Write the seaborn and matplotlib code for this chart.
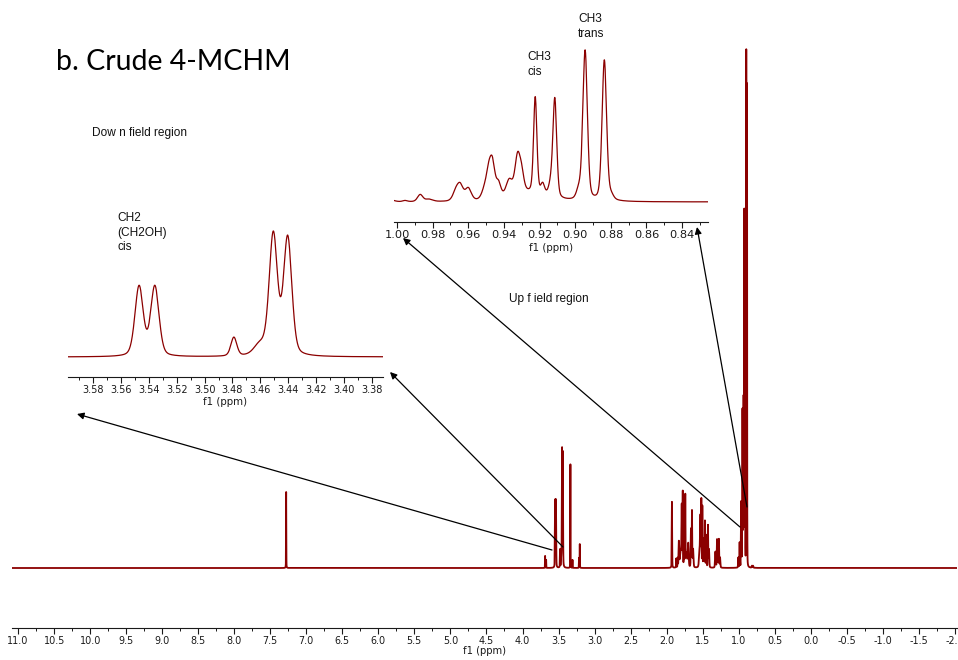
import numpy as np
import pandas as pd
import matplotlib
matplotlib.use("Agg")
import matplotlib.pyplot as plt
from matplotlib.ticker import MultipleLocator, FuncFormatter
import seaborn as sns

# ---------------- data ----------------
# Peaks: position (ppm), intensity (main-plot units), full width at half max (ppm)
methyl_ppm = [0.9955, 0.9870, 0.9820, 0.9670, 0.9645, 0.9600, 0.9505, 0.9485, 0.9465,
              0.9430, 0.9370, 0.9323, 0.9300, 0.9280, 0.9224, 0.9182, 0.9136, 0.9114,
              0.8980, 0.8944, 0.8836, 0.8797]
methyl_int = [4, 24, 8, 30, 50, 42, 40, 60, 120,
              45, 50, 125, 55, 30, 328, 35, 40, 333,
              30, 512, 480, 14]
methyl_fwhm = [0.003, 0.0035, 0.005, 0.004, 0.004, 0.004, 0.004, 0.003, 0.0035,
               0.003, 0.004, 0.0035, 0.003, 0.025, 0.0022, 0.0025, 0.003, 0.0025,
               0.003, 0.003, 0.003, 0.003]

ch2_ppm = [3.5470, 3.5357, 3.4790, 3.4603, 3.4507, 3.4404]
ch2_int = [67, 67, 18, 10, 116, 113]
ch2_fwhm = [0.007, 0.007, 0.005, 0.010, 0.007, 0.007]

ring_ppm = [1.926, 1.866, 1.846, 1.830, 1.800, 1.790, 1.776, 1.756, 1.741, 1.725,
            1.700, 1.662, 1.648, 1.632, 1.540, 1.530, 1.518, 1.504, 1.486, 1.468,
            1.450, 1.426, 1.412, 1.322, 1.300, 1.285, 1.274, 1.258]
ring_int = [66, 9, 9, 25, 18, 50, 72, 48, 70, 14,
            24, 38, 56, 18, 20, 42, 66, 60, 28, 46,
            32, 42, 18, 16, 28, 22, 28, 10]
ring_fwhm = [0.006, 0.006, 0.006, 0.010, 0.03, 0.007, 0.006, 0.007, 0.006, 0.02,
             0.014, 0.008, 0.007, 0.012, 0.02, 0.008, 0.006, 0.006, 0.010, 0.007,
             0.008, 0.007, 0.010, 0.012, 0.008, 0.007, 0.007, 0.010]

misc_ppm = [7.28, 3.686, 3.672, 3.335, 3.306, 3.215, 3.205, 1.005, 0.815, 0.800]
misc_int = [76, 12, 8, 105, 8, 10, 24, 10, 2, 2]
misc_fwhm = [0.004, 0.004, 0.004, 0.003, 0.004, 0.004, 0.004, 0.006, 0.01, 0.01]

title = "b. Crude 4-MCHM"
xlabel = "f1 (ppm)"

# ---------------- build spectrum ----------------
all_ppm = np.array(methyl_ppm + ch2_ppm + ring_ppm + misc_ppm)
all_int = np.array(methyl_int + ch2_int + ring_int + misc_int, dtype=float)
all_fwhm = np.array(methyl_fwhm + ch2_fwhm + ring_fwhm + misc_fwhm)


def spectrum(x, eta=0.3):
    y = np.zeros_like(x)
    for c, h, w in zip(all_ppm, all_int, all_fwhm):
        d = (x - c) / w
        y += h * ((1 - eta) * np.exp(-4 * np.log(2) * d * d) + eta / (1 + 4 * d * d))
    return y


main_x = np.arange(-2.1, 11.2, 0.0004)
main_df = pd.DataFrame({"ppm": main_x, "intensity": spectrum(main_x)})
up_x = np.linspace(0.82, 1.005, 4000)
up_df = pd.DataFrame({"ppm": up_x, "intensity": spectrum(up_x)})
dn_x = np.linspace(3.365, 3.60, 4000)
dn_df = pd.DataFrame({"ppm": dn_x, "intensity": spectrum(dn_x)})

# ---------------- figure ----------------
sns.set_style("white")
plt.rcParams["font.family"] = ["DejaVu Sans"]
plt.rcParams["axes.unicode_minus"] = False

W, H = 958, 660
fig = plt.figure(figsize=(W / 100, H / 100), dpi=100)


def rect(x0, y0, x1, y1):
    return [x0 / W, 1 - y1 / H, (x1 - x0) / W, (y1 - y0) / H]


LINE = "#8B0000"
INK = "#1a1a1a"


def style_axis(ax, major, minor, fmt, size, lab_top_px, ax_h_px, lab_size):
    for s in ["top", "left", "right"]:
        ax.spines[s].set_visible(False)
    ax.spines["bottom"].set_color(INK)
    ax.spines["bottom"].set_linewidth(0.8)
    ax.set_yticks([])
    ax.set_ylabel("")
    ax.xaxis.set_major_locator(MultipleLocator(major))
    ax.xaxis.set_minor_locator(MultipleLocator(minor))
    ax.xaxis.set_major_formatter(FuncFormatter(lambda v, p: fmt.format(round(v, 3) + 0.0)))
    ax.tick_params(axis="x", which="major", direction="out", length=4, width=0.8,
                   labelsize=size, pad=1.8, colors=INK, bottom=True)
    ax.tick_params(axis="x", which="minor", direction="out", length=2.5, width=0.7,
                   colors=INK, bottom=True)
    ax.set_xlabel(xlabel, fontsize=lab_size, color=INK)
    ax.xaxis.set_label_coords(0.5, -lab_top_px / ax_h_px)
    ax.set_facecolor("none")
    ax.grid(False)


# main axes
ax = fig.add_axes(rect(12, 40, 957, 628))
sns.lineplot(data=main_df, x="ppm", y="intensity", ax=ax, color=LINE,
             linewidth=1.3, estimator=None, errorbar=None)
ax.set_xlim(11.085, -2.03)
ax.set_ylim(-60, 528)
style_axis(ax, 0.5, 0.25, "{:.1f}", 6.9, 18, 588, 7.2)

# upfield inset (methyl region)
ax1 = fig.add_axes(rect(394, 40, 708, 222))
sns.lineplot(data=up_df, x="ppm", y="intensity", ax=ax1, color=LINE,
             linewidth=0.9, estimator=None, errorbar=None)
ax1.set_xlim(1.0017, 0.8254)
ax1.set_ylim(-20 * 3.41, 162 * 3.41)
style_axis(ax1, 0.02, 0.01, "{:.2f}", 8.2, 21, 182, 7.4)

# downfield inset (CH2OH region)
ax2 = fig.add_axes(rect(68, 200, 383, 377))
sns.lineplot(data=dn_df, x="ppm", y="intensity", ax=ax2, color=LINE,
             linewidth=0.9, estimator=None, errorbar=None)
ax2.set_xlim(3.598, 3.372)
ax2.set_ylim(-20 * 0.96, 157 * 0.96)
style_axis(ax2, 0.02, 0.01, "{:.2f}", 7.0, 20, 177, 7.4)

# texts
def ftext(x, y, s, **kw):
    fig.text(x / W, 1 - y / H, s, **kw)


ftext(56, 62, title, fontsize=20.5, family=["Lato", "DejaVu Sans"], va="center",
      ha="left", color="black")
lab = dict(family=["Liberation Sans", "DejaVu Sans"], fontsize=8.6, va="top", ha="left",
           linespacing=1.3, color="#111111")
ftext(92, 127, "Dow n field region", **lab)
ftext(509, 293, "Up f ield region", **lab)
ftext(117, 212, "CH2\n(CH2OH)\ncis", **lab)
ftext(527, 51, "CH3\ncis", **lab)
ftext(578, 13, "CH3\ntrans", **lab)

# arrows (tail -> tip, image pixels)
for (tx, ty), (hx, hy) in [((552, 550), (77, 414)), ((563, 547), (390, 372)),
                           ((740, 527), (403, 238)), ((747, 507), (697, 227))]:
    ax.annotate("", xy=(hx, H - hy), xytext=(tx, H - ty),
                xycoords="figure pixels", textcoords="figure pixels",
                arrowprops=dict(arrowstyle="-|>", color="black", lw=0.9,
                                shrinkA=0, shrinkB=0, mutation_scale=10))

fig.savefig("out.png", dpi=100)
